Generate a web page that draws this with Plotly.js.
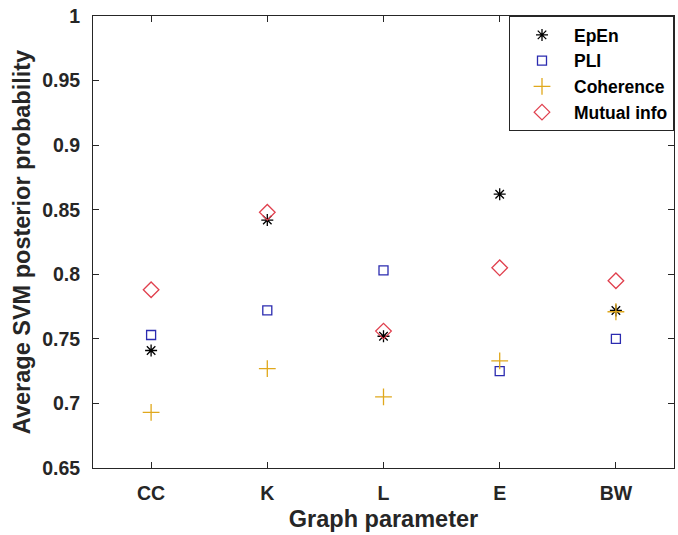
<!DOCTYPE html>
<html>
<head>
<meta charset="utf-8">
<script src="https://cdn.plot.ly/plotly-3.0.1.min.js"></script>
<style>html,body{margin:0;padding:0;background:#fff}#chart{width:678px;height:535px}</style>
</head>
<body>
<div id="chart"></div>
<script>
const categories = ["CC", "K", "L", "E", "BW"];
const epen = [0.741, 0.842, 0.752, 0.862, 0.772];
const pli = [0.753, 0.772, 0.803, 0.725, 0.750];
const coherence = [0.693, 0.727, 0.705, 0.733, 0.771];
const mutualInfo = [0.788, 0.848, 0.756, 0.805, 0.795];
const yTicks = [0.65, 0.7, 0.75, 0.8, 0.85, 0.9, 0.95, 1];
const yTickText = ["0.65", "0.7", "0.75", "0.8", "0.85", "0.9", "0.95", "1"];

const traces = [
  {name: "EpEn", y: epen, symbol: "asterisk-open", color: "#000000", size: 10},
  {name: "PLI", y: pli, symbol: "square-open", color: "#2b2bb0", size: 9},
  {name: "Coherence", y: coherence, symbol: "cross-thin-open", color: "#e0a81c", size: 12},
  {name: "Mutual info", y: mutualInfo, symbol: "diamond-open", color: "#e0404e", size: 12}
].map(t => ({
  type: "scatter", mode: "markers", name: t.name, x: categories, y: t.y,
  marker: {symbol: t.symbol, size: t.size, color: t.color, line: {width: 1.3, color: t.color}}
}));

const fam = "Liberation Sans, Arial, sans-serif";
const tickFont = {family: fam, size: 19.5, color: "#262626", weight: "bold"};
const titleFont = {family: fam, size: 23.5, color: "#262626", weight: "bold"};
const layout = {
  width: 678, height: 535,
  margin: {l: 93, r: 4, t: 16, b: 67},
  paper_bgcolor: "#fff", plot_bgcolor: "#fff",
  showlegend: true,
  xaxis: {
    type: "category", range: [-0.5, 4.5],
    showline: true, mirror: "ticks", linecolor: "#262626", linewidth: 1,
    ticks: "inside", ticklen: 6, tickcolor: "#262626",
    showgrid: false, zeroline: false, tickfont: tickFont, ticklabelstandoff: 8,
    title: {text: "Graph parameter", font: titleFont, standoff: 7}
  },
  yaxis: {
    range: [0.65, 1], tickvals: yTicks, ticktext: yTickText,
    showline: true, mirror: "ticks", linecolor: "#262626", linewidth: 1,
    ticks: "inside", ticklen: 6, tickcolor: "#262626",
    showgrid: false, zeroline: false, tickfont: tickFont, ticklabelstandoff: 8,
    title: {text: "Average SVM posterior probability", font: titleFont, standoff: 4}
  },
  legend: {
    x: 1, y: 1, xanchor: "right", yanchor: "top",
    bgcolor: "#fff", bordercolor: "#262626", borderwidth: 1,
    font: {family: fam, size: 17.5, color: "#000", weight: "bold"},
    itemwidth: 54
  }
};
Plotly.newPlot("chart", traces, layout, {displayModeBar: false, staticPlot: true});
</script>
</body>
</html>
